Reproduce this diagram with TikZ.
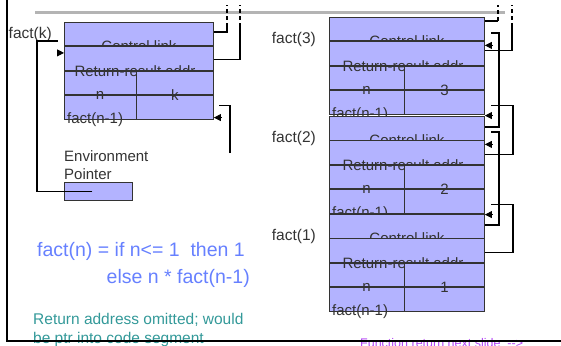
\documentclass[tikz,border=0pt]{standalone}
\usepackage{fontspec}
\setmainfont{Liberation Sans}
\usetikzlibrary{positioning,calc,arrows.meta}
\definecolor{cCell}{HTML}{B3B3FF}
\definecolor{cEdge}{HTML}{333333}
\definecolor{cInk}{HTML}{333333}
\definecolor{cBlue}{HTML}{6680FF}
\definecolor{cTeal}{HTML}{339999}
\definecolor{cViolet}{HTML}{B347F5}
\definecolor{cRule}{HTML}{B4B4B4}
\tikzset{
  cell/.style={draw=cEdge,fill=cCell,line width=0.9pt,inner sep=0pt,minimum height=23.5pt,anchor=north west},
  rcell/.style={cell,anchor=north east},
  txt/.style={font=\fontsize{15}{17}\selectfont,text=cInk,inner sep=0pt},
  lbl/.style={font=\fontsize{15.5}{18}\selectfont,text=cInk,inner sep=0pt},
  formula/.style={font=\fontsize{19.5}{22}\selectfont,text=cBlue,inner sep=0pt},
  note/.style={font=\fontsize{15.5}{18}\selectfont,text=cTeal,inner sep=0pt},
  link/.style={draw=black,line width=1.3pt},
  linkd/.style={link,dash pattern=on 4pt off 3pt},
  tip/.style={-{Triangle[length=7pt,width=7pt]},line width=0.8pt},
  slideedge/.style={line width=2.6pt,black},
}

\begin{document}
\begin{tikzpicture}[x=1pt,y=-1pt]
  \useasboundingbox (0,0) rectangle (561,345);
  \clip (0,0) rectangle (561,345);
  \draw[cRule,line width=3pt] (35,13) -- (505,13);
  % activation records
  \foreach \nm/\fx/\fy/\fw/\fd/\fv in {fk/64/22/149/72/k, f3/329/17/155/75/3, f2/329/116/155/75/2, f1/329/214/155/75/1}{
    \pgfmathsetmacro\rw{\fw-\fd}
    \node[cell,minimum width=\fw pt] (\nm-r1) at (\fx,\fy) {};
    \node[txt] at (\nm-r1.south) {Control link};
    \node[cell,minimum width=\fw pt] (\nm-r2) at (\nm-r1.south west) {};
    \node[cell,minimum width=\fw pt] (\nm-r3) at (\nm-r2.south west) {};
    \node[cell,minimum width=\fw pt] (\nm-r4) at (\nm-r3.south west) {};
    \node[txt,xshift=-4pt] at (\nm-r3.north) {Return-result addr};
    \node[rcell,minimum width=\rw pt] (\nm-v3) at (\nm-r3.north east) {};
    \node[rcell,minimum width=\rw pt] (\nm-v4) at (\nm-r4.north east) {};
    \node[txt] at ($(\nm-r3.south west)!0.5!(\nm-v3.south west)$) {n};
    \node[txt] at (\nm-v3.south) {\fv};
    \node[txt,anchor=west] at ($(\nm-r4.south west)+(3,0)$) {fact(n-1)};
  }
  \node[lbl,anchor=east] (lk) at ($(fk-r1.west)+(-12,0)$) {fact(k)};
  \node[lbl,anchor=east] (l3) at ($(f3-r1.south west)+(-13,-2)$) {fact(3)};
  \node[lbl,anchor=east] (l2) at ($(f2-r1.south west)+(-13,-2)$) {fact(2)};
  \node[lbl,anchor=east] (l1) at ($(f1-r1.south west)+(-13,-2)$) {fact(1)};
  % environment pointer
  \node[cell,minimum width=68pt,minimum height=18pt] (ep) at (64,182) {};
  \node[txt,anchor=south west,align=left,font=\fontsize{15}{18}\selectfont] (eplbl) at ($(ep.north west)+(0,-2)$) {Environment\\Pointer};
  \draw[link] ($(ep.center)+(-6,0)$) -| ($(fk-r1.north west)+(-27,19)$) -- ++(21,0);
  \draw[tip] ($(fk-r2.north west)+(-7,6.5)$) -- ($(fk-r2.north west)+(0,6.5)$);
  % links leaving the top
  \coordinate (skytop) at (0,5);
  \coordinate (ka) at (227,27);
  \coordinate (kb) at (240,27);
  \coordinate (ta) at (498,21);
  \coordinate (tb) at (512,27);
  \draw[link] ($(fk-r1.north east)+(0,10)$) -| (ka);
  \draw[link] ($(fk-r2.north east)+(0,13)$) -| (kb);
  \draw[link] ($(f3-r1.north east)+(0,4)$) -- (ta);
  \draw[link] ($(f3-r2.north east)+(0,9)$) -| (tb);
  \foreach \c in {ka,kb,ta,tb}
    \draw[linkd] (\c) -- (\c |- skytop);
  % links between records
  \foreach \u/\l in {f3/f2,f2/f1}{
    \draw[link] ($(\l-r1.north east)+(0,11)$) -| ($(\u-r1.north east)+(14,16)$) -- ++(-8,0);
    \draw[link] ($(\l-r2.north east)+(0,14)$) -| ($(\u-r4.south east)+(28,-9)$) -- ++(-22,0);
    \draw[tip] ($(\u-r2.north east)+(7,4)$) -- ($(\u-r2.north east)+(0,4)$);
    \draw[tip] ($(\u-r4.south east)+(7,1)$) -- ($(\u-r4.south east)+(0,1)$);
  }
  \coordinate (kret) at (230,153);
  \draw[link] (kret) |- ($(fk-r4.south east)+(5,-14)$);
  \draw[tip] ($(fk-r4.south east)+(7,-2)$) -- ($(fk-r4.south east)+(0,-2)$);
  % texts
  \node[formula,anchor=west] (fn1) at (37,251) {fact(n) = if n<= 1\ \ then 1};
  \node[formula,anchor=east] (fn2) at (250,278) {else n * fact(n-1)};
  \node[note,anchor=base west] (nt1) at (33,324) {Return address omitted; would};
  \node[note,anchor=base west] (nt2) at (33,343) {be ptr into code segment};
  \node[anchor=base west,inner sep=0pt,text=cViolet,font=\fontsize{12.5}{14}\selectfont] (nx) at (360,347) {Function return next slide\ \ -{}-{}>};
  \draw[slideedge] (7,-2) -- (7,341) -- (563,341);
\end{tikzpicture}
\end{document}
